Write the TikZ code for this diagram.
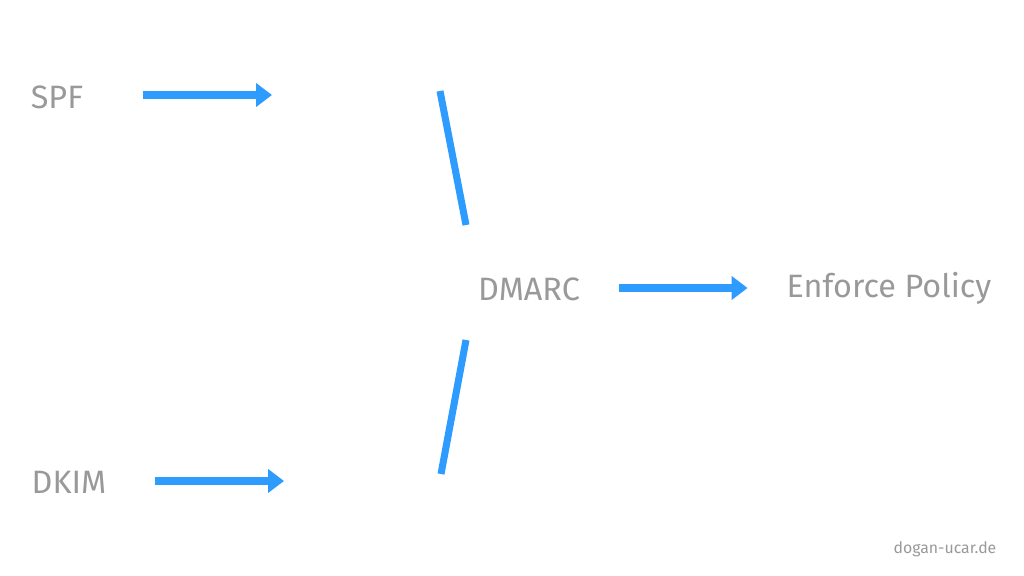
\documentclass[tikz,border=0pt]{standalone}
\usepackage{fontspec}
\setmainfont{Fira Sans}
\usetikzlibrary{arrows.meta}
\definecolor{txtgray}{HTML}{999999}
\definecolor{arrblue}{HTML}{2E9BFF}
\tikzset{>={Triangle[length=4.5pt,width=6.5pt]},
  lbl/.style={text=txtgray,font=\fontsize{9.2}{11}\selectfont,inner sep=0pt},
  flow/.style={->,draw=arrblue,line width=2pt},
  bar/.style={draw=arrblue,line width=2pt}}
\begin{document}
\begin{tikzpicture}[x=0.01cm,y=-0.01cm]
\useasboundingbox (0,0) rectangle (1024,576);
\node[lbl] (spf) at (57,97) {SPF};
\node[lbl] (dkim) at (69,482) {DKIM};
\node[lbl] (dmarc) at (529,289) {DMARC};
\node[lbl] (enf) at (889,288) {Enforce Policy};
\node[lbl,font=\fontsize{4.5}{6}\selectfont] (site) at (945,549) {dogan-ucar.de};
\coordinate (spfend) at (272,95);
\coordinate (dkimend) at (284,481);
\coordinate (t1) at (440,91);
\coordinate (t2) at (466,225);
\coordinate (b1) at (466,340);
\coordinate (b2) at (441,474);
\draw[flow] (143,95) -- (spfend);
\draw[flow] (155,481) -- (dkimend);
\draw[bar] (t1) -- (t2);
\draw[bar] (b1) -- (b2);
\draw[flow] (dmarc.east)++(38,-1) -- ++(129,0);
\end{tikzpicture}
\end{document}
